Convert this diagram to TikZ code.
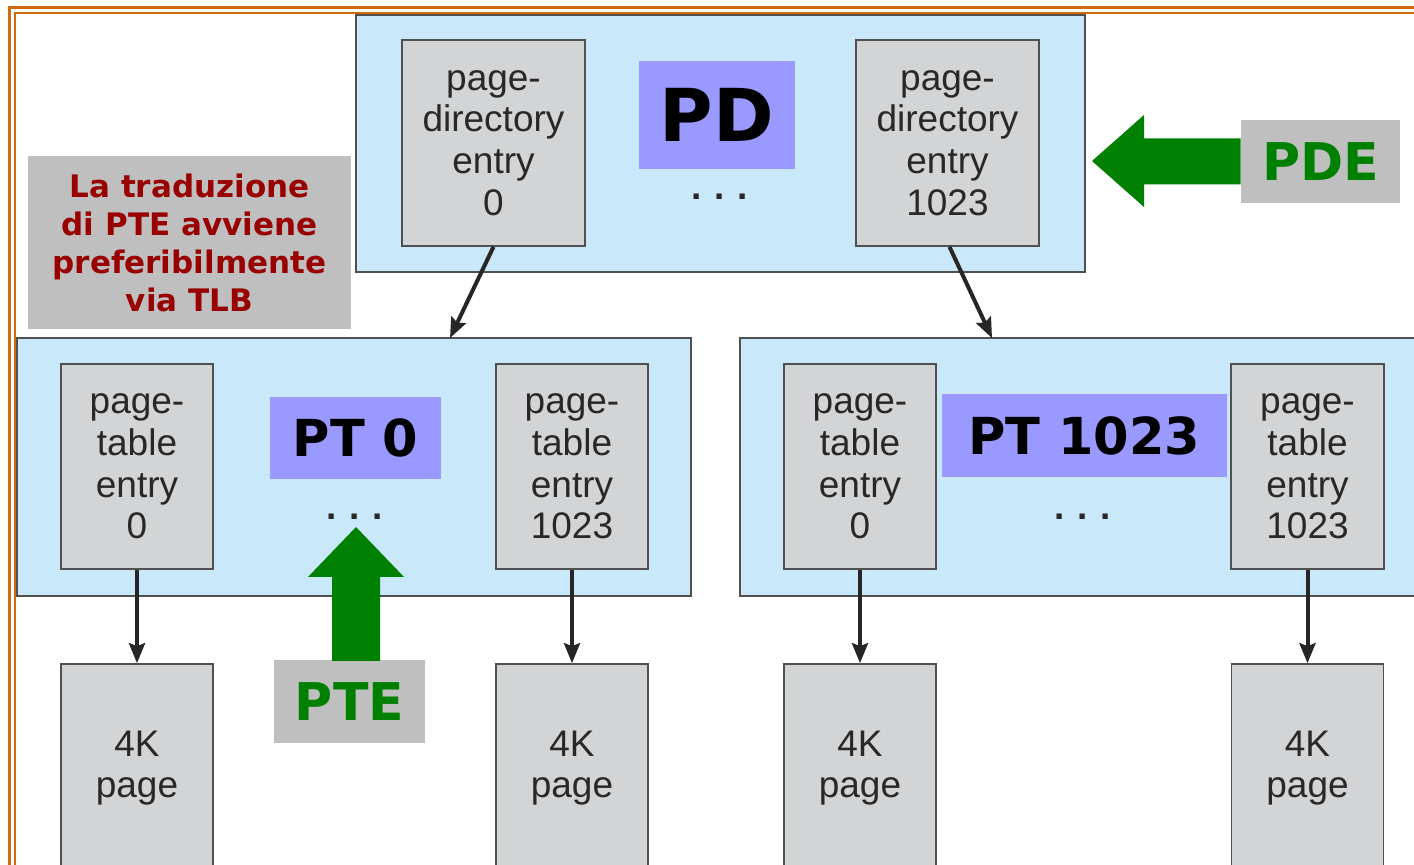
\documentclass[tikz,border=0pt]{standalone}
\usepackage{fontspec}
\setmainfont{Liberation Sans}
\newfontfamily\verdana{DejaVu Sans}
\usetikzlibrary{arrows.meta}

\definecolor{frameorange}{RGB}{208,106,10}
\definecolor{tblue}{RGB}{201,232,249}
\definecolor{egray}{RGB}{211,212,213}
\definecolor{boxline}{RGB}{80,80,80}
\definecolor{etext}{RGB}{40,40,40}
\definecolor{lblue}{RGB}{153,153,255}
\definecolor{lgray}{RGB}{191,191,191}
\definecolor{pgreen}{RGB}{0,128,0}
\definecolor{dred}{RGB}{153,0,0}

\begin{document}
\begin{tikzpicture}[
    x=0.5pt, y=-0.5pt,
    frame/.style={frameorange, line width=1.5pt},
    table/.style={draw=boxline, fill=tblue, line width=0.8pt, inner sep=0pt},
    entry/.style={draw=boxline, fill=egray, line width=0.8pt, inner sep=0pt,
        align=center, text=etext, font=\fontsize{18.5}{20.8}\selectfont},
    label/.style={fill=lblue, inner sep=0pt, font=\verdana\bfseries},
    tag/.style={fill=lgray, inner sep=0pt, text=pgreen,
        font=\verdana\bfseries\fontsize{26}{30}\selectfont,
        minimum width=79.5pt, minimum height=41.5pt},
    dots/.style={font=\fontsize{18.5}{20.5}\selectfont\bfseries, text=etext},
    link/.style={-{Stealth[length=10pt, width=8pt, inset=1.5pt]}, line width=2pt, black!85}
]
\useasboundingbox (0,0) rectangle (1414,865);
\clip (0,0) rectangle (1414,865);

% cornice
\draw[frame] (9.5,870) -- (9.5,7.5) -- (1420,7.5);
\draw[frame, line width=1pt] (15,870) -- (15,13) -- (1420,13);

% page directory
\node[table, minimum width=364.5pt, minimum height=128.5pt] (pd) at (720.5,143.5) {};
\node[entry, minimum width=91.5pt, minimum height=103pt] (pde0) at (493.5,143) {page-\\directory\\entry\\0};
\node[entry, minimum width=91.5pt, minimum height=103pt] (pde1) at (947.5,143) {page-\\directory\\entry\\1023};
\node[label, minimum width=78pt, minimum height=54pt, font=\verdana\bfseries\fontsize{36.5}{40}\selectfont] (pdlbl) at (717,115) {PD};
\node[dots] (pddots) at (720,197) {.\hspace{6.4pt}.\hspace{6.4pt}.};

% page tables
\node[table, minimum width=337pt, minimum height=129pt] (pt0) at (354,467) {};
\node[table, minimum width=340pt, minimum height=129pt] (pt1) at (1080,467) {};
\node[entry, minimum width=76pt, minimum height=102.5pt] (pt0e0) at (137,466.5) {page-\\table\\entry\\0};
\node[entry, minimum width=76pt, minimum height=102.5pt] (pt0e1) at (572,466.5) {page-\\table\\entry\\1023};
\node[entry, minimum width=76pt, minimum height=102.5pt] (pt1e0) at (860,466.5) {page-\\table\\entry\\0};
\node[entry, minimum width=76.5pt, minimum height=102.5pt] (pt1e1) at (1307.5,466.5) {page-\\table\\entry\\1023};
\node[label, minimum width=85.5pt, minimum height=41pt, font=\verdana\bfseries\fontsize{25.5}{30}\selectfont] (pt0lbl) at (355.5,438) {PT 0};
\node[label, minimum width=142.5pt, minimum height=41.5pt, font=\verdana\bfseries\fontsize{25.5}{30}\selectfont] (pt1lbl) at (1084.5,435.5) {PT 1023};
\node[dots] (pt0dots) at (355,517) {.\hspace{6.4pt}.\hspace{6.4pt}.};
\node[dots] (pt1dots) at (1083,517) {.\hspace{6.4pt}.\hspace{6.4pt}.};

% pagine da 4K
\foreach \name/\x in {pg0/137, pg1/572, pg2/860, pg3/1307.5} {
    \node[entry, minimum width=76pt, minimum height=104pt] (\name) at (\x,768) {4K\\page};
}

% collegamenti
\coordinate (pt0top) at (450,338);
\coordinate (pt1top) at (992,338);
\draw[link] (pde0.south) -- (pt0top);
\draw[link] ([xshift=1pt]pde1.south) -- (pt1top);
\draw[link] (pt0e0.south) -- (pg0.north);
\draw[link] (pt0e1.south) -- (pg1.north);
\draw[link] (pt1e0.south) -- (pg2.north);
\draw[link] (pt1e1.south) -- (pg3.north);

% nota
\node[fill=lgray, inner sep=0pt, minimum width=161.5pt, minimum height=86.5pt,
    align=center, text=dred, font=\verdana\bfseries\fontsize{15.5}{19}\selectfont]
    (note) at (189.5,242.5) {La traduzione\\di PTE avviene\\preferibilmente\\via TLB};

% frecce verdi
\node[tag] (pdetag) at (1320.5,161.5) {PDE};
\fill[pgreen] (pdetag.west) ++(0,-23) -- (1144,138.5) -- (1144,115) -- (1092,161)
    -- (1144,207) -- (1144,184.5) -- ([yshift=-11.5pt]pdetag.west) -- cycle;
\node[tag, minimum width=75.5pt] (ptetag) at (349.5,701.5) {PTE};
\fill[pgreen] (332,661) -- (332,577) -- (308,577) -- (356,527) -- (404,577)
    -- (380,577) -- (380,661) -- cycle;

\end{tikzpicture}
\end{document}
